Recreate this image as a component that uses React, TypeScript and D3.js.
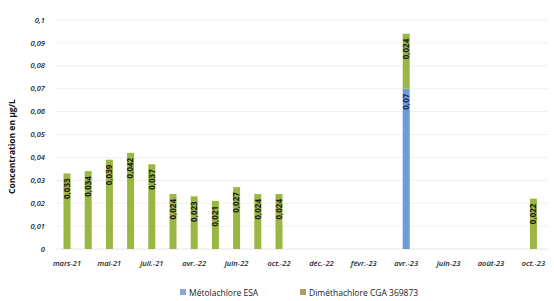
import React, { useEffect, useRef } from 'react';
import * as d3 from 'd3';

// categories (Excel category axis, one label out of two shown)
const categories = [
  'mars-21', 'avr.-21', 'mai-21', 'juin-21', 'juil.-21', 'août-21',
  'avr.-22', 'mai-22', 'juin-22', 'août-22', 'oct.-22', 'nov.-22',
  'déc.-22', 'janv.-23', 'févr.-23', 'mars-23', 'avr.-23', 'mai-23',
  'juin-23', 'juil.-23', 'août-23', 'sept.-23', 'oct.-23',
];
const metolachlore = [0, 0, 0, 0, 0, 0, 0, 0, 0, 0, 0, 0, 0, 0, 0, 0, 0.07, 0, 0, 0, 0, 0, 0];
const dimethachlore = [
  0.033, 0.034, 0.039, 0.042, 0.037, 0.024, 0.023, 0.021, 0.027, 0.024, 0.024,
  0, 0, 0, 0, 0, 0.024, 0, 0, 0, 0, 0, 0.022,
];
const yTicks = [0, 0.01, 0.02, 0.03, 0.04, 0.05, 0.06, 0.07, 0.08, 0.09, 0.1];
const seriesNames = ['Métolachlore ESA', 'Diméthachlore CGA 369873'];

const fmt = (v: number) => String(+v.toFixed(3)).replace('.', ',');

const App: React.FC = () => {
  const svgRef = useRef<SVGSVGElement>(null);

  useEffect(() => {
    if (!svgRef.current) return;
    const svg = d3.select(svgRef.current);
    svg.selectAll('*').remove();

    const font = "'Open Sans', sans-serif";

    const x = d3.scaleBand<string>()
      .domain(categories)
      .range([56.4, 544]);
    const y = d3.scaleLinear().domain([0, 0.1]).range([249, 20]);

    const barW = 7;
    const cx = (c: string) => (x(c) || 0) + x.bandwidth() / 2;

    // gridlines
    svg.append('g')
      .selectAll('line')
      .data(yTicks.slice(1))
      .join('line')
      .attr('x1', 56)
      .attr('x2', 548)
      .attr('y1', d => y(d))
      .attr('y2', d => y(d))
      .attr('stroke', '#efefef')
      .attr('stroke-width', 1);

    // axis baseline
    svg.append('line')
      .attr('x1', 56).attr('x2', 548)
      .attr('y1', y(0)).attr('y2', y(0))
      .attr('stroke', '#e4e4e4');

    // y tick labels
    svg.append('g')
      .selectAll('text')
      .data(yTicks)
      .join('text')
      .attr('x', 45)
      .attr('y', d => y(d))
      .attr('dy', '0.35em')
      .attr('text-anchor', 'end')
      .style('font-family', font)
      .style('font-size', '7.5px')
      .style('font-style', 'italic')
      .style('font-weight', 600)
      .style('fill', '#222')
      .text(d => fmt(d));

    // x tick labels
    svg.append('g')
      .selectAll('text')
      .data(categories.filter((_, i) => i % 2 === 0))
      .join('text')
      .attr('x', d => cx(d))
      .attr('y', 266)
      .attr('text-anchor', 'middle')
      .style('font-family', font)
      .style('font-size', '7.5px')
      .style('font-style', 'italic')
      .style('font-weight', 600)
      .style('fill', '#222')
      .text(d => d);

    // y axis title
    svg.append('text')
      .attr('transform', `translate(15,${(y(0) + y(0.1)) / 2 + 12}) rotate(-90)`)
      .attr('text-anchor', 'middle')
      .style('font-family', font)
      .style('font-size', '8.5px')
      .style('font-weight', 700)
      .style('fill', '#111')
      .text('Concentration en µg/L');

    const rows = categories.map((c, i) => ({ c, m: metolachlore[i], d: dimethachlore[i] }));

    // Métolachlore ESA (bottom)
    svg.append('g')
      .selectAll('rect')
      .data(rows.filter(r => r.m > 0))
      .join('rect')
      .attr('x', r => cx(r.c) - barW / 2)
      .attr('y', r => y(r.m))
      .attr('width', barW)
      .attr('height', r => y(0) - y(r.m))
      .attr('fill', '#6f9ad8');

    // Diméthachlore CGA 369873 (stacked on top)
    svg.append('g')
      .selectAll('rect')
      .data(rows.filter(r => r.d > 0))
      .join('rect')
      .attr('x', r => cx(r.c) - barW / 2)
      .attr('y', r => y(r.m + r.d))
      .attr('width', barW)
      .attr('height', r => y(r.m) - y(r.m + r.d))
      .attr('fill', '#9bb642');

    // data labels, "inside end", reading bottom to top
    const labels: { c: string; v: number; top: number; color: string }[] = [];
    rows.forEach(r => {
      if (r.m > 0) labels.push({ c: r.c, v: r.m, top: r.m, color: '#1b2a5a' });
      if (r.d > 0) labels.push({ c: r.c, v: r.d, top: r.m + r.d, color: '#1a1a1a' });
    });
    svg.append('g')
      .selectAll('text')
      .data(labels)
      .join('text')
      .attr('transform', d => `translate(${cx(d.c)},${y(d.top) + 5}) rotate(-90)`)
      .attr('text-anchor', 'end')
      .attr('dy', '0.35em')
      .style('font-family', font)
      .style('font-size', '8px')
      .style('font-weight', 700)
      .style('fill', d => d.color)
      .text(d => fmt(d.v));

    // legend
    const legend = svg.append('g').attr('transform', 'translate(0,293)');
    const items = [
      { name: seriesNames[0], color: '#8ea7cc', x: 180 },
      { name: seriesNames[1], color: '#a9a262', x: 300 },
    ];
    items.forEach(it => {
      legend.append('rect')
        .attr('x', it.x).attr('y', -4)
        .attr('width', 6).attr('height', 6)
        .attr('fill', it.color);
      legend.append('text')
        .attr('x', it.x + 9).attr('y', 0)
        .attr('dy', '0.3em')
        .style('font-family', font)
        .style('font-size', '8.5px')
        .style('fill', '#222')
        .text(it.name);
    });
  }, []);

  return (
    <svg
      ref={svgRef}
      width={554}
      height={301}
      style={{ position: 'absolute', left: 0, top: 0, background: '#fff' }}
    />
  );
};

export default App;
